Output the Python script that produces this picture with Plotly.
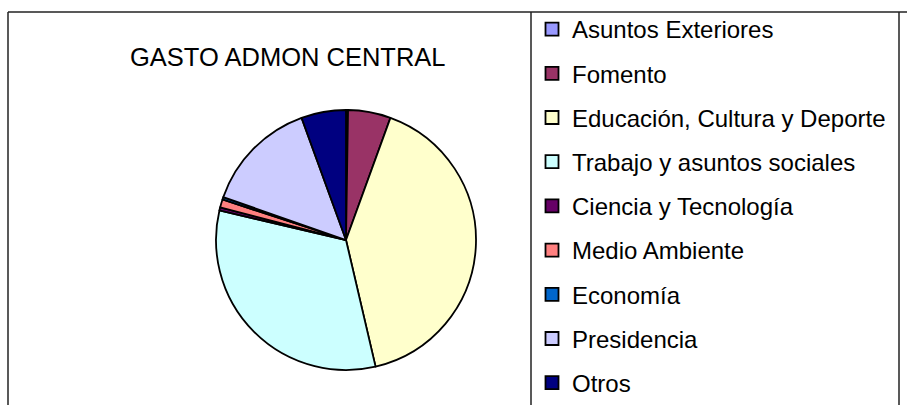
import plotly.graph_objects as go

categories = ["Asuntos Exteriores", "Fomento", "Educación, Cultura y Deporte",
              "Trabajo y asuntos sociales", "Ciencia y Tecnología", "Medio Ambiente",
              "Economía", "Presidencia", "Otros"]
values = [0.25, 5.3, 40.8, 32.3, 0.4, 1.0, 0.3, 14.1, 5.55]
colors = ["#9999FF", "#993366", "#FFFFCC", "#CCFFFF", "#660066", "#FF8080",
          "#0066CC", "#CCCCFF", "#000080"]
title = "GASTO ADMON CENTRAL"

W, H = 907, 405
FONT = "Liberation Sans, Arial, sans-serif"

fig = go.Figure()

cx, cy, r = 346, 240, 130
fig.add_trace(go.Pie(
    labels=categories, values=values, sort=False, direction="clockwise",
    rotation=0, textinfo="none", hoverinfo="label+percent",
    marker=dict(colors=colors, line=dict(color="black", width=1.8)),
    showlegend=False,
    domain=dict(x=[(cx - r) / W, (cx + r) / W], y=[(H - cy - r) / H, (H - cy + r) / H]),
))

for name, col in zip(categories, colors):
    fig.add_trace(go.Scatter(
        x=[None], y=[None], mode="markers", name=name, legendgroup=name,
        marker=dict(symbol="square", size=13, color=col, line=dict(color="black", width=1.8)),
    ))

frame = dict(color="#222222", width=1.5)
shapes = [
    dict(type="line", xref="paper", yref="paper", x0=8 / W, x1=1, y0=1 - 12 / H, y1=1 - 12 / H, line=frame),
    dict(type="line", xref="paper", yref="paper", x0=8 / W, x1=8 / W, y0=0, y1=1 - 12 / H, line=frame),
    dict(type="line", xref="paper", yref="paper", x0=531 / W, x1=531 / W, y0=0, y1=1 - 12 / H, line=frame),
    dict(type="line", xref="paper", yref="paper", x0=899 / W, x1=899 / W, y0=0, y1=1 - 12 / H, line=frame),
]

fig.update_layout(
    width=W, height=H, margin=dict(l=0, r=0, t=0, b=0),
    paper_bgcolor="white", plot_bgcolor="white",
    xaxis=dict(visible=False), yaxis=dict(visible=False),
    shapes=shapes,
    legend=dict(
        x=532 / W, y=1 - 18 / H, xanchor="left", yanchor="top",
        traceorder="grouped", tracegroupgap=10,
        font=dict(family=FONT, size=24, color="black"),
        bgcolor="rgba(0,0,0,0)", borderwidth=0,
    ),
    annotations=[dict(
        text=title, x=288 / W, y=1 - 57 / H, xref="paper", yref="paper",
        showarrow=False, font=dict(family=FONT, size=25.5, color="black"),
        xanchor="center", yanchor="middle",
    )],
)

fig.write_html("out.html", config={"displayModeBar": False},
               post_script="document.body.style.margin='0';document.body.style.overflow='hidden';")
